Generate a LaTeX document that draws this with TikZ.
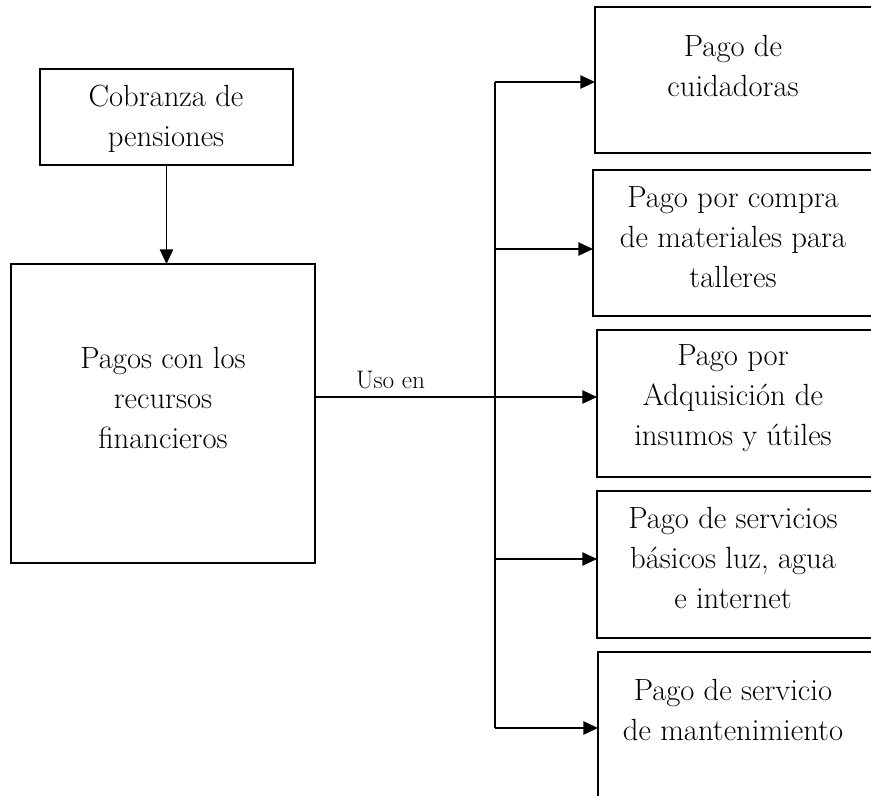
\documentclass[tikz,border=0pt]{standalone}
\usetikzlibrary{positioning, arrows.meta}

\begin{document}
\begin{tikzpicture}[
    x=0.75pt, y=-0.75pt,
    every node/.style={align=center, inner sep=0pt, outer sep=0pt, font=\fontsize{23}{30}\selectfont},
    box/.style={draw, line width=1.1pt, anchor=north west},
    line width=1.1pt,
    >={Triangle[length=11pt,width=10pt]}
]
    \useasboundingbox (0,0) rectangle (871,796);
    \clip (0,0) rectangle (871,796);

    \node[box, minimum width=189.75pt, minimum height=72pt] (cobranza) at (40,69) {};
    \node[anchor=north] (cobranzaTxt) at (166,85) {Cobranza de\\pensiones};

    \node[box, minimum width=228pt, minimum height=224.25pt] (pagos) at (11,264) {};
    \node[anchor=north] (pagosTxt) at (163,347) {Pagos con los\\recursos\\financieros};

    \draw[->] (cobranza.south) -- (cobranza.south |- pagos.north);

    \node[box, minimum width=208.5pt, minimum height=109.5pt] (b1) at (595,7) {};
    \node[anchor=north] (b1txt) at (733,35) {Pago de\\cuidadoras};
    \node[box, minimum width=210pt, minimum height=109.5pt] (b2) at (593,170) {};
    \node[anchor=north] (b2txt) at (733,187) {Pago por compra\\de materiales para\\talleres};
    \node[box, minimum width=207pt, minimum height=110.25pt] (b3) at (597,330) {};
    \node[anchor=north] (b3txt) at (733,345) {Pago por\\Adquisición de\\insumos y útiles};
    \node[box, minimum width=207pt, minimum height=110.25pt] (b4) at (597,491) {};
    \node[anchor=north] (b4txt) at (733,507) {Pago de servicios\\básicos luz, agua\\e internet};
    \node[box, minimum width=206.25pt, minimum height=120pt] (b5) at (598,652) {};
    \node[anchor=north] (b5txt) at (733,679) {Pago de servicio\\de mantenimiento};

    \coordinate (t1) at (495,82);
    \coordinate (t2) at (495,249);
    \coordinate (t3) at (495,397);
    \coordinate (t4) at (495,559);
    \coordinate (t5) at (495,728);

    \foreach \k in {1,...,5}{
        \draw[->] (t\k) -- (t\k -| b\k.west);
    }

    \draw (t1) -- (t5);
    \draw (pagos.east |- t3) -- node[pos=0.42, above=6pt, font=\fontsize{19}{21}\selectfont] {Uso en} (t3);
\end{tikzpicture}
\end{document}
